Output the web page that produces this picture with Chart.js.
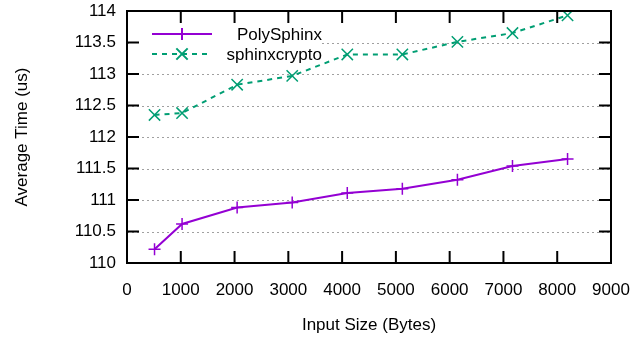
<!DOCTYPE html>
<html>
<head>
<meta charset="utf-8">
<script src="https://cdn.jsdelivr.net/npm/chart.js@4"></script>
<style>
  html, body { margin: 0; padding: 0; background: #fff; }
  #wrap { width: 641px; height: 341px; }
</style>
</head>
<body>
<div id="wrap"><canvas id="chart" width="641" height="341"></canvas></div>
<script>
// Data
const inputSizes = [512, 1024, 2048, 3072, 4096, 5120, 6144, 7168, 8192];
const polySphinx = [110.22, 110.62, 110.88, 110.96, 111.11, 111.18, 111.32, 111.54, 111.65];
const sphinxcrypto = [112.35, 112.38, 112.83, 112.97, 113.31, 113.31, 113.51, 113.65, 113.93];

const xTicks = [0, 1000, 2000, 3000, 4000, 5000, 6000, 7000, 8000, 9000];
const yTicks = [110, 110.5, 111, 111.5, 112, 112.5, 113, 113.5, 114];

const FONT = "'Liberation Sans', Arial, sans-serif";
const FSIZE = 17;
const PURPLE = '#9400d3';
const GREEN = '#009e73';

const toPoints = (xs, ys) => xs.map((x, i) => ({ x: x, y: ys[i] }));

// gnuplot-like frame with inward ticks on all four sides
const framePlugin = {
  id: 'frame',
  afterDatasetsDraw(chart) {
    const { ctx, chartArea: a, scales } = chart;
    const len = 12;
    ctx.save();
    ctx.strokeStyle = '#000';
    ctx.lineWidth = 2;
    ctx.beginPath();
    xTicks.forEach(v => {
      const px = scales.x.getPixelForValue(v);
      ctx.moveTo(px, a.bottom); ctx.lineTo(px, a.bottom - len);
      ctx.moveTo(px, a.top); ctx.lineTo(px, a.top + len);
    });
    yTicks.forEach(v => {
      const py = scales.y.getPixelForValue(v);
      ctx.moveTo(a.left, py); ctx.lineTo(a.left + len, py);
      ctx.moveTo(a.right, py); ctx.lineTo(a.right - len, py);
    });
    ctx.stroke();
    ctx.strokeRect(a.left, a.top, a.right - a.left, a.bottom - a.top);
    ctx.restore();
  }
};

// dotted horizontal grid, then the key box in the top-left corner
const keyPlugin = {
  id: 'key',
  beforeDatasetsDraw(chart) {
    const { ctx, chartArea: a, scales } = chart;
    ctx.save();
    ctx.strokeStyle = '#a0a0a0';
    ctx.lineWidth = 1;
    ctx.setLineDash([2, 3]);
    ctx.beginPath();
    yTicks.forEach(v => {
      const py = Math.round(scales.y.getPixelForValue(v)) + 0.5;
      ctx.moveTo(a.left, py); ctx.lineTo(a.right, py);
    });
    ctx.stroke();
    ctx.setLineDash([]);

    ctx.fillStyle = '#fff';
    ctx.fillRect(a.left + 2, a.top + 2, 192, 52);
    ctx.font = FSIZE + 'px ' + FONT;
    ctx.textAlign = 'right';
    ctx.textBaseline = 'middle';
    chart.data.datasets.forEach((ds, i) => {
      const y = a.top + 23 + i * 20;
      ctx.strokeStyle = ds.borderColor;
      ctx.lineWidth = 2;
      ctx.setLineDash(ds.borderDash || []);
      ctx.beginPath();
      ctx.moveTo(a.left + 25, y);
      ctx.lineTo(a.left + 85, y);
      ctx.stroke();
      ctx.setLineDash([]);
      Chart.helpers.drawPoint(ctx, {
        pointStyle: ds.pointStyle, radius: ds.pointRadius,
        borderWidth: ds.pointBorderWidth, rotation: 0
      }, a.left + 55, y);
      ctx.fillStyle = '#000';
      ctx.fillText(ds.label, a.left + 195, y + 1);
    });
    ctx.restore();
  }
};

new Chart(document.getElementById('chart'), {
  type: 'scatter',
  data: {
    datasets: [{
      label: 'PolySphinx',
      data: toPoints(inputSizes, polySphinx),
      showLine: true,
      borderColor: PURPLE,
      backgroundColor: PURPLE,
      borderWidth: 2,
      pointStyle: 'cross',
      pointRadius: 6,
      pointBorderWidth: 1.5,
      pointHoverRadius: 6
    }, {
      label: 'sphinxcrypto',
      data: toPoints(inputSizes, sphinxcrypto),
      showLine: true,
      borderColor: GREEN,
      backgroundColor: GREEN,
      borderWidth: 2,
      borderDash: [5, 5],
      pointStyle: 'crossRot',
      pointRadius: 8,
      pointBorderWidth: 1.5,
      pointHoverRadius: 8
    }]
  },
  options: {
    responsive: false,
    animation: false,
    events: [],
    layout: { padding: { top: 11, right: 30, left: 0, bottom: 0 } },
    scales: {
      x: {
        type: 'linear',
        min: 0,
        max: 9000,
        afterFit: s => { s.height = 78; s.paddingLeft = 0; s.paddingRight = 0; },
        afterBuildTicks: s => { s.ticks = xTicks.map(v => ({ value: v })); },
        ticks: {
          padding: 17,
          color: '#000',
          maxRotation: 0,
          callback: v => String(v),
          font: { family: FONT, size: FSIZE }
        },
        grid: { display: false, drawTicks: false },
        border: { display: false },
        title: {
          display: true,
          text: 'Input Size (Bytes)',
          color: '#000',
          padding: { top: 0, bottom: 5 },
          font: { family: FONT, size: FSIZE }
        }
      },
      y: {
        min: 110,
        max: 114,
        afterFit: s => { s.width = 127; s.paddingTop = 0; s.paddingBottom = 0; },
        afterBuildTicks: s => { s.ticks = yTicks.map(v => ({ value: v })); },
        ticks: {
          padding: 11,
          color: '#000',
          callback: v => String(v),
          font: { family: FONT, size: FSIZE }
        },
        grid: { display: false, drawTicks: false },
        border: { display: false },
        title: {
          display: true,
          text: 'Average Time (us)',
          color: '#000',
          padding: { top: 12, bottom: 0 },
          font: { family: FONT, size: FSIZE }
        }
      }
    },
    plugins: {
      legend: { display: false },
      tooltip: { enabled: false }
    }
  },
  plugins: [keyPlugin, framePlugin]
});
</script>
</body>
</html>
